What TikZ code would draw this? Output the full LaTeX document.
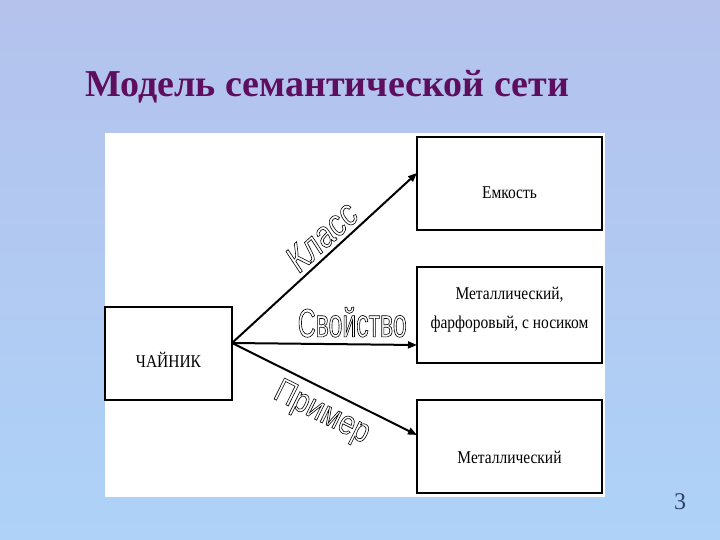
\documentclass[tikz,border=0pt]{standalone}
\usepackage{fontspec}
\setmainfont{Liberation Serif}
\newfontfamily\boxfont[FakeStretch=0.86]{Liberation Serif}
\newfontfamily\relfont[FakeStretch=0.83]{Liberation Sans}
\newfontfamily\relnarrow[FakeStretch=0.62]{Liberation Sans}
\usetikzlibrary{arrows.meta, positioning, calc}
\definecolor{bgtop}{RGB}{180,194,236}
\definecolor{bgbottom}{RGB}{174,210,248}
\definecolor{titlepurple}{RGB}{94,14,94}
\definecolor{pagenum}{RGB}{50,64,110}
% outlined letters
\newcommand{\hollow}[1]{\special{pdf:literal direct 1 Tr 0.6 w}#1\special{pdf:literal direct 0 Tr}}
% move the text inside a box down / up
\newcommand{\down}[2]{\raisebox{0pt}[\dimexpr\height+#1\relax][\depth]{#2}}
\newcommand{\up}[2]{\raisebox{0pt}[\height][\dimexpr\depth+#1\relax]{#2}}

\begin{document}
\begin{tikzpicture}[x=1pt, y=-1pt,
  box/.style={draw, rectangle, line width=1.2pt, inner sep=0pt, outer sep=0pt,
    font=\boxfont\fontsize{18}{29}\selectfont, align=center},
  rel/.style={-{Triangle[length=9pt,width=7pt]}, line width=2pt},
  lbl/.style={font=\relfont\fontsize{34}{34}\selectfont, inner sep=0pt}]
  % Background
  \useasboundingbox (0,0) rectangle (720,540);
  \shade[top color=bgtop, bottom color=bgbottom] (0,0) rectangle (720,540);
  \fill[white] (105,133) rectangle (605,497);

  % Title
  \node[anchor=base west, text=titlepurple, inner sep=0pt,
    font=\bfseries\fontsize{38}{44}\selectfont] (title) at (85,97) {Модель семантической сети};

  % Semantic net
  \node[box, minimum width=127pt, minimum height=93pt] (teapot) at (168.5,353.5) {\down{12pt}{ЧАЙНИК}};
  \node[box, minimum width=185pt, minimum height=93pt] (vessel) at (509.5,183.5) {\down{18pt}{Емкость}};
  \node[box, minimum width=185pt, minimum height=96pt] (props) at (509.5,315) {\up{14pt}{\begin{tabular}{@{}c@{}}Металлический,\\фарфоровый, с носиком\end{tabular}}};
  \node[box, minimum width=185pt, minimum height=93pt] (metal) at (509.5,446.5) {\down{22pt}{Металлический}};

  \draw[rel] ([yshift=10.5pt]teapot.east) -- ([yshift=10.5pt]vessel.west)
    node[lbl, pos=0.55, sloped, above=4pt, font=\relfont\fontsize{37}{37}\selectfont] (klass) {\hollow{\itshape Класс}};
  \draw[rel] ([yshift=10.5pt]teapot.east) -- ([yshift=-30pt]props.west)
    node[lbl, pos=0.65, above=6pt, font=\relnarrow\fontsize{40}{40}\selectfont] (svoistvo) {\hollow{Свойство}};
  \draw[rel] ([yshift=10.5pt]teapot.east) -- ([yshift=11.5pt]metal.west)
    node[lbl, pos=0.54, sloped, below=7pt] (primer) {\hollow{Пример}};

  % Slide number
  \node[text=pagenum, font=\fontsize{24}{24}\selectfont] (num) at (680,502) {3};
\end{tikzpicture}
\end{document}
